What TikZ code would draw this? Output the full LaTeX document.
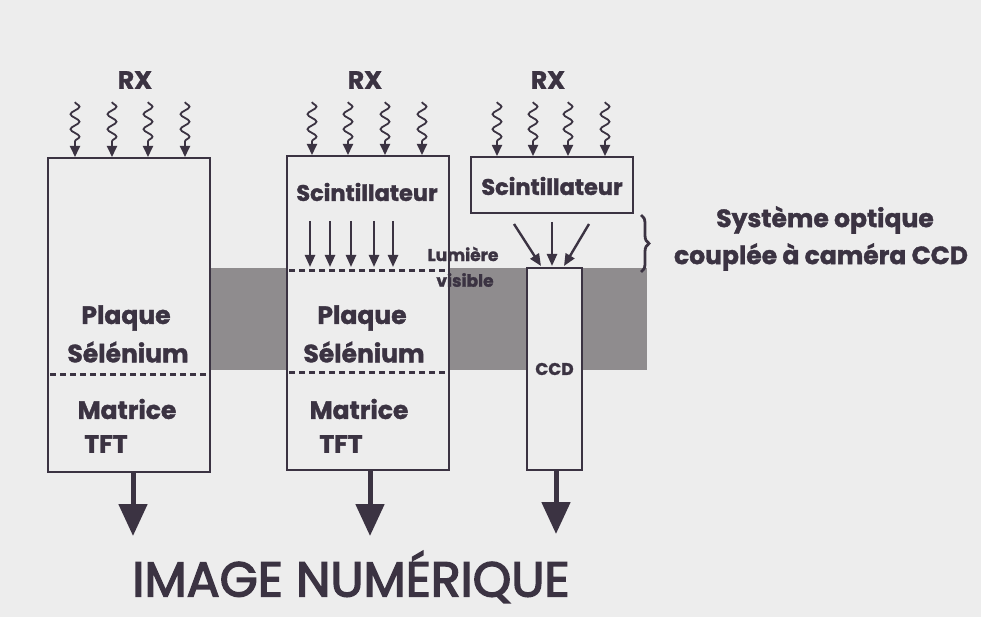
\documentclass[tikz,border=0pt]{standalone}
\usepackage{fontspec}
\setmainfont{Poppins}
\usetikzlibrary{arrows.meta,decorations.pathmorphing,decorations.pathreplacing}
\definecolor{bg}{HTML}{EDEDED}
\definecolor{ink}{HTML}{3B3342}
\definecolor{band}{HTML}{8F8C8E}
\tikzset{
  box/.style={draw=ink, line width=2pt, fill=bg, inner sep=0pt},
  lbl/.style={text=ink, font=\fontsize{25}{28}\selectfont\bfseries\addfontfeature{FakeBold=1.5}, align=center, inner sep=0pt},
  sci/.style={text=ink, font=\fontsize{22.5}{26}\selectfont\bfseries\addfontfeature{FakeBold=1.5}, align=center, inner sep=0pt},
  small/.style={text=ink, font=\fontsize{17}{19}\selectfont\bfseries\addfontfeature{FakeBold=1.5}, align=center, inner sep=0pt},
  sep/.style={draw=ink, line width=3pt, dash pattern=on 6pt off 4pt},
  ray/.style={draw=ink, line width=1.8pt, decorate,
    decoration={snake, segment length=15pt, amplitude=4.5pt, post length=13pt},
    -{Triangle[length=11pt,width=10pt]}},
  light/.style={draw=ink, line width=2.4pt, -{Triangle[length=12pt,width=10pt]}},
  outarrow/.style={draw=ink, line width=5pt, -{Triangle[length=32pt,width=28pt]}}
}
\begin{document}
\begin{tikzpicture}[x=1pt,y=-1pt]
\useasboundingbox (0,0) rectangle (981,617);
\fill[bg] (0,0) rectangle (981,617);
% gray band
\fill[band] (210,268) rectangle (647,370);
% boxes
\node[box, minimum width=162pt, minimum height=314pt] (b1) at (129,315) {};
\node[box, minimum width=162pt, minimum height=314pt] (b2) at (368,313) {};
\node[box, minimum width=162pt, minimum height=56pt] (b3) at (552,185) {};
\node[box, minimum width=55pt, minimum height=202pt] (ccd) at (554.5,369) {};
% separators
\coordinate (d1a) at (50,374); \coordinate (d1b) at (208,374);
\draw[sep] (d1a) -- (d1b);
\coordinate (d2a) at (289,271); \coordinate (d2b) at (445,271);
\draw[sep] (d2a) -- (d2b);
\coordinate (d3a) at (289,372); \coordinate (d3b) at (447,372);
\draw[sep] (d3a) -- (d3b);
% RX labels
\node[lbl] (rx1) at (135,80) {RX};
\node[lbl] (rx2) at (365,80) {RX};
\node[lbl] (rx3) at (548,80) {RX};
% rays
\foreach \x in {75,112,148,185} {\coordinate (s) at (\x,102); \draw[ray] (s) -- (s |- b1.north);}
\foreach \x in {312,348,385,422} {\coordinate (s) at (\x,102); \draw[ray] (s) -- (s |- b2.north);}
\foreach \x in {497,533,568,605} {\coordinate (s) at (\x,102); \draw[ray] (s) -- (s |- b3.north);}
% box 1 text
\node[lbl] (p1) at (126,318) {Plaque};
\node[lbl] (s1) at (128,352) {Sélénium};
\node[lbl] (m1) at (127,409) {Matrice};
\node[lbl] (t1) at (106,444) {TFT};
% box 2 text
\node[sci] (sc2) at (367,192) {Scintillateur};
\node[lbl] (p2) at (362,318) {Plaque};
\node[lbl] (s2) at (364,352) {Sélénium};
\node[lbl] (m2) at (359,409) {Matrice};
\node[lbl] (t2) at (341,444) {TFT};
\foreach \x in {310,330,351,374,393} {\coordinate (a) at (\x,221); \coordinate (b) at (\x,267); \draw[light] (a) -- (b);}
\node[small] (lum) at (463,254) {Lumière};
\node[small] (vis) at (465,280) {visible};
% box 3 text
\node[sci] (sc3) at (552,186) {Scintillateur};
\coordinate (l1) at (514,224); \coordinate (l1e) at (541,266);
\coordinate (l2) at (552,222); \coordinate (l2e) at (552,266);
\coordinate (l3) at (589,224); \coordinate (l3e) at (564,266);
\draw[light] (l1) -- (l1e);
\draw[light] (l2) -- (l2e);
\draw[light] (l3) -- (l3e);
\node[small] (ccdt) at (ccd.center) {CCD};
% brace and caption
\coordinate (br1) at (641,215); \coordinate (br2) at (641,272);
\draw[ink, line width=2.8pt, decorate, decoration={brace, amplitude=8pt}] (br1) -- (br2);
\node[lbl] (so) at (825,220) {Système optique};
\node[lbl] (cc) at (821,257) {couplée à caméra CCD};
% output arrows
\coordinate (o1) at (133,536); \draw[outarrow] (b1.south -| o1) -- (o1);
\coordinate (o2) at (370,536); \draw[outarrow] (b2.south -| o2) -- (o2);
\coordinate (o3) at (556,534); \draw[outarrow] (ccd.south -| o3) -- (o3);
% title
\node[text=ink, font=\fontsize{49}{52}\selectfont\addfontfeature{FakeBold=3}, inner sep=0pt] (title) at (351,577) {IMAGE NUMÉRIQUE};
\end{tikzpicture}
\end{document}
